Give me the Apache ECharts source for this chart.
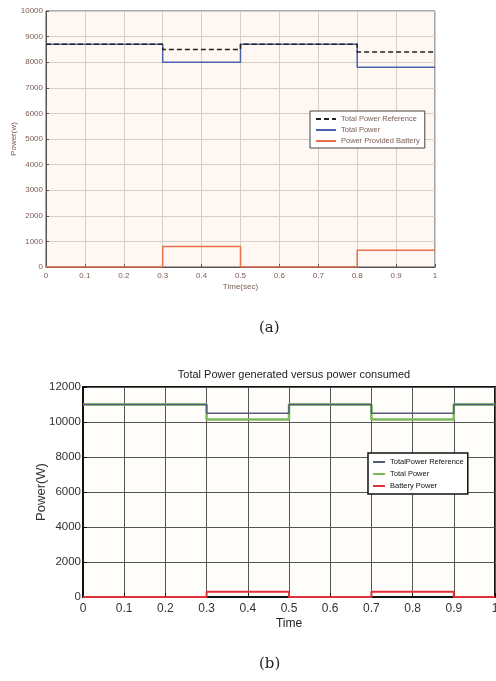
<!DOCTYPE html>
<html>
<head>
<meta charset="utf-8">
<script src="https://cdn.jsdelivr.net/npm/echarts@6/dist/echarts.min.js"></script>
<style>html,body{margin:0;padding:0;background:#fff;}#c{width:496px;height:681px;}</style>
</head>
<body>
<div id="c"></div>
<script>
// ---- data: chart (a) ----
const aBreaks = [0, 0.3, 0.5, 0.8, 1];
const aRef = [8700, 8500, 8700, 8400];
const aTotal = [8700, 8000, 8700, 7800];
const aBattery = [0, 800, 0, 650];
const aNames = ['Total Power Reference', 'Total Power', 'Power Provided Battery'];
// ---- data: chart (b) ----
const bBreaks = [0, 0.3, 0.5, 0.7, 0.9, 1];
const bRef = [11000, 10500, 11000, 10500, 11000];
const bTotal = [11000, 10150, 11000, 10150, 11000];
const bBattery = [0, 300, 0, 300, 0];
const bNames = ['TotalPower Reference', 'Total Power ', 'Battery Power'];
const bTitle = 'Total Power generated versus power consumed';

function steps(breaks, vals) {
  const out = [];
  for (let i = 0; i < vals.length; i++) {
    out.push([breaks[i], vals[i]]);
    out.push([breaks[i + 1], vals[i]]);
  }
  return out;
}
const xFmt = v => String(Math.round(v * 10) / 10);
const yFmt = v => String(Math.round(v));

const aText = '#7a5c52';
const narrow = '"Liberation Sans Narrow", "Arial Narrow", Arial, sans-serif';

const chart = echarts.init(document.getElementById('c'), null, {renderer: 'canvas'});
chart.setOption({
  animation: false,
  backgroundColor: '#ffffff',
  title: [{
    text: bTitle, left: 289, top: 364, textAlign: 'center',
    textStyle: {fontFamily: narrow, fontSize: 11, fontWeight: 'normal', color: '#222'}
  }],
  graphic: [
    {type: 'text', left: 259, top: 321, style: {text: '(a)', font: '15px "DejaVu Serif", serif', fill: '#222'}},
    {type: 'text', left: 259, top: 657, style: {text: '(b)', font: '15px "DejaVu Serif", serif', fill: '#222'}}
  ],
  grid: [
    {left: 46, top: 11, width: 389, height: 256, outerBoundsMode: 'none', show: true, backgroundColor: '#fff7f1', borderColor: '#555', borderWidth: 1},
    {left: 83, top: 387, width: 412, height: 210, outerBoundsMode: 'none', show: true, backgroundColor: '#fffdf9', borderColor: '#111', borderWidth: 2}
  ],
  legend: [
    {
      data: aNames, orient: 'vertical', left: 310, top: 111, itemGap: 3, itemWidth: 20, itemHeight: 8,
      padding: [4, 5, 3, 5], backgroundColor: '#fff', borderColor: '#444', borderWidth: 1, borderRadius: 0,
      itemStyle: {opacity: 0},
      textStyle: {fontSize: 7.5, color: aText, fontFamily: narrow}
    },
    {
      data: bNames, orient: 'vertical', left: 368, top: 453, itemGap: 4, itemWidth: 12, itemHeight: 8,
      padding: [5, 4, 4, 4], backgroundColor: '#fff', borderColor: '#111', borderWidth: 1.5, borderRadius: 0,
      itemStyle: {opacity: 0},
      textStyle: {fontSize: 7.5, color: '#111', fontFamily: narrow}
    }
  ],
  xAxis: [
    {
      gridIndex: 0, type: 'value', min: 0, max: 1, interval: 0.1,
      name: 'Time(sec)', nameLocation: 'middle', nameGap: 16, nameMoveOverlap: false,
      nameTextStyle: {fontSize: 8, color: aText},
      axisLine: {show: true, lineStyle: {color: '#555'}},
      axisTick: {show: true, inside: true, length: 3, lineStyle: {color: '#555'}},
      axisLabel: {fontSize: 8, color: aText, formatter: xFmt, margin: 5},
      splitLine: {show: true, lineStyle: {color: '#d8ccc6', width: 1}}
    },
    {
      gridIndex: 1, type: 'value', min: 0, max: 1, interval: 0.1,
      name: 'Time', nameLocation: 'middle', nameGap: 21, nameMoveOverlap: false,
      nameTextStyle: {fontSize: 12, color: '#222', fontFamily: narrow},
      axisLine: {show: true, lineStyle: {color: '#111', width: 2}},
      axisTick: {show: true, inside: true, length: 4, lineStyle: {color: '#111'}},
      axisLabel: {fontSize: 12, color: '#333', formatter: xFmt, margin: 6, fontFamily: narrow},
      splitLine: {show: true, lineStyle: {color: '#555', width: 1}}
    }
  ],
  yAxis: [
    {
      gridIndex: 0, type: 'value', min: 0, max: 10000, interval: 1000,
      name: 'Power(w)', nameLocation: 'middle', nameGap: 28, nameRotate: 90, nameMoveOverlap: false,
      nameTextStyle: {fontSize: 8, color: aText},
      axisLine: {show: true, lineStyle: {color: '#555'}},
      axisTick: {show: true, inside: true, length: 3, lineStyle: {color: '#555'}},
      axisLabel: {fontSize: 8, color: aText, margin: 3, formatter: yFmt},
      splitLine: {show: true, lineStyle: {color: '#d8ccc6', width: 1}}
    },
    {
      gridIndex: 1, type: 'value', min: 0, max: 12000, interval: 2000,
      name: 'Power(W)', nameLocation: 'middle', nameGap: 35, nameRotate: 90, nameMoveOverlap: false,
      nameTextStyle: {fontSize: 13, color: '#333', fontFamily: 'Arial, "Liberation Sans", sans-serif'},
      axisLine: {show: true, lineStyle: {color: '#111', width: 2}},
      axisTick: {show: true, inside: true, length: 4, lineStyle: {color: '#111'}},
      axisLabel: {fontSize: 11.5, color: '#333', margin: 2, fontFamily: narrow, formatter: yFmt},
      splitLine: {show: true, lineStyle: {color: '#555', width: 1}}
    }
  ],
  series: [
    {name: aNames[2], type: 'line', xAxisIndex: 0, yAxisIndex: 0, symbol: 'none', data: steps(aBreaks, aBattery),
      lineStyle: {color: '#e8714a', width: 1.5}, itemStyle: {color: '#e8714a'}},
    {name: aNames[1], type: 'line', xAxisIndex: 0, yAxisIndex: 0, symbol: 'none', data: steps(aBreaks, aTotal),
      lineStyle: {color: '#4a62b0', width: 1.5}, itemStyle: {color: '#4a62b0'}},
    {name: aNames[0], type: 'line', xAxisIndex: 0, yAxisIndex: 0, symbol: 'none', data: steps(aBreaks, aRef),
      lineStyle: {color: '#222', width: 1.5, type: [5, 3]}, itemStyle: {color: '#222'}},
    {name: bNames[1], type: 'line', xAxisIndex: 1, yAxisIndex: 1, symbol: 'none', data: steps(bBreaks, bTotal),
      lineStyle: {color: '#7bb85a', width: 2.5}, itemStyle: {color: '#7bb85a'}},
    {name: bNames[0], type: 'line', xAxisIndex: 1, yAxisIndex: 1, symbol: 'none', data: steps(bBreaks, bRef),
      lineStyle: {color: '#555e78', width: 1.5}, itemStyle: {color: '#7a82b8'}},
    {name: bNames[2], type: 'line', xAxisIndex: 1, yAxisIndex: 1, symbol: 'none', data: steps(bBreaks, bBattery),
      lineStyle: {color: '#e0303a', width: 2}, itemStyle: {color: '#e0303a'}}
  ]
});
</script>
</body>
</html>
